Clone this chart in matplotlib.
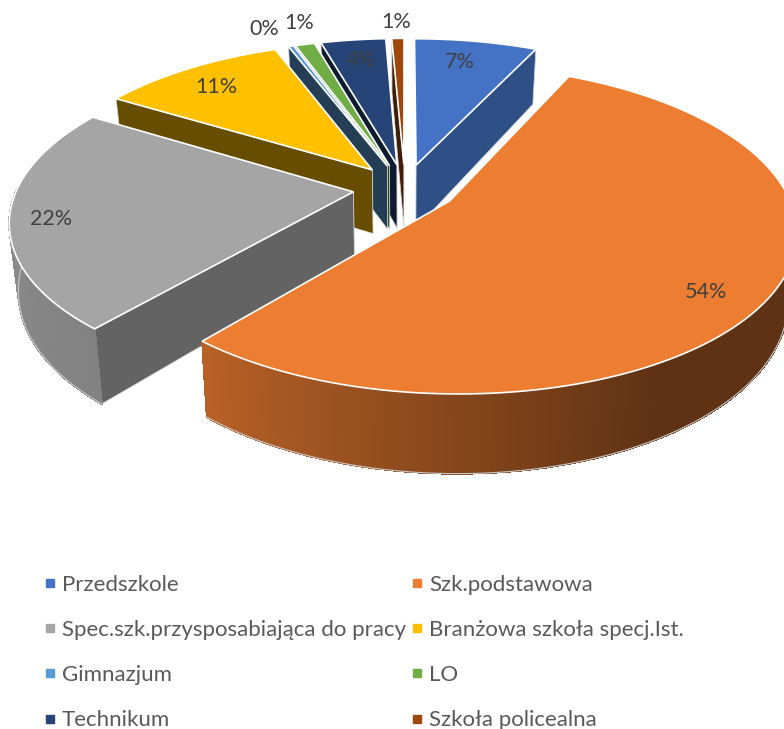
"""Exploded 3D pie chart of pupils by school type."""

import numpy as np
import matplotlib
matplotlib.use('Agg')
import matplotlib.pyplot as plt
from matplotlib.collections import PolyCollection
from matplotlib.lines import Line2D

categories = ['Przedszkole', 'Szk.podstawowa', 'Spec.szk.przysposabiająca do pracy',
              'Branżowa szkoła specj.Ist.', 'Gimnazjum', 'LO', 'Technikum', 'Szkoła policealna']
shares = [7.0, 54.2, 22.5, 10.5, 0.3, 1.1, 3.7, 0.7]
percent_labels = ['7%', '54%', '22%', '11%', '0%', '1%', '4%', '1%']
colors = ['#4472C4', '#ED7D31', '#A5A5A5', '#FFC000', '#5B9BD5', '#70AD47', '#264478', '#9E480E']

# pixel position of each percent label
label_xy = [(460, 62), (706, 292), (51, 219), (216, 87), (264, 29), (299, 23), (361, 60), (396, 22)]
# how dark the visible flat wall of each slice is
flat_shade = [0.69, 0.6, 0.6, 0.4, 0.4, 0.4, 0.4, 0.4]

plt.rcParams['font.family'] = ['Lato', 'DejaVu Sans']

# view of the pie, in pixels
CX, CY = 405, 188
RX, RY = 336, 155
PERSP = 0.17
DEPTH = 65
EXPLODE = 0.155


def project(u, v, z=0.0):
    s = 1 / (1 + PERSP * v)
    x = CX + RX * u * s * (1 - 0.023 * z)
    y = CY - RY * v * s + DEPTH * s * z
    return np.column_stack([x, y])


def shade(rgb, f):
    return tuple(c * f for c in rgb)


def curved_shade(theta):
    # lighting along the outer wall, by angle clockwise from the top
    return np.interp(theta, [90, 150, 222, 270], [0.40, 0.40, 0.79, 0.85])


fig, ax = plt.subplots(figsize=(7.84, 7.29), dpi=100)
fig.subplots_adjust(0, 0, 1, 1)
ax.set_xlim(0, 784)
ax.set_ylim(729, 0)
ax.axis('off')

edges = np.concatenate([[0], np.cumsum(shares)]) / np.sum(shares) * 360
mids = (edges[:-1] + edges[1:]) / 2
order = np.argsort(-np.cos(np.radians(mids)))

for i in order:
    start, end = edges[i], edges[i + 1]
    rgb = matplotlib.colors.to_rgb(colors[i])
    mid = np.radians(mids[i])
    ou, ov = EXPLODE * np.sin(mid), EXPLODE * np.cos(mid)
    theta = np.linspace(start, end, max(int(end - start) * 2, 4))
    rad = np.radians(theta)
    rim_u, rim_v = ou + np.sin(rad), ov + np.cos(rad)

    # flat walls that face the viewer
    for ang in (start, end):
        s = np.sin(np.radians(ang))
        visible = s < 0 if ang == start else s > 0
        if not visible:
            continue
        a = np.radians(ang)
        wall_u = np.array([ou, ou + np.sin(a), ou + np.sin(a), ou])
        wall_v = np.array([ov, ov + np.cos(a), ov + np.cos(a), ov])
        top = project(wall_u[:2], wall_v[:2], 0)
        bottom = project(wall_u[2:], wall_v[2:], 1)
        ax.fill(*np.vstack([top, bottom]).T, facecolor=shade(rgb, flat_shade[i]),
                edgecolor='#d8d8d8', linewidth=0.6, zorder=2)

    # outer curved wall, only the part that faces front
    keep = np.cos(rad) < 0.02
    if keep.sum() > 1:
        ku, kv, kt = rim_u[keep], rim_v[keep], theta[keep]
        top = project(ku, kv, 0)
        bottom = project(ku, kv, 1)
        quads = [[top[j], top[j + 1], bottom[j + 1], bottom[j]] for j in range(len(kt) - 1)]
        quad_colors = [shade(rgb, curved_shade(t)) for t in kt[:-1]]
        ax.add_collection(PolyCollection(quads, facecolors=quad_colors, edgecolors=quad_colors,
                                         linewidths=0.8, antialiaseds=False, zorder=2))
        ax.plot(*bottom.T, color='#c8c8c8', linewidth=0.8, zorder=2)

    # top face
    face = project(np.concatenate([[ou], rim_u]), np.concatenate([[ov], rim_v]), 0)
    ax.fill(*face.T, facecolor=rgb, edgecolor='white', linewidth=1.2,
            joinstyle='miter', zorder=2)

for (x, y), text in zip(label_xy, percent_labels):
    ax.text(x, y, text, ha='center', va='center', fontsize=15.5, color='#404040', zorder=3)

handles = [Line2D([], [], linestyle='none', marker='s', markersize=5.8, color=c, label=n)
           for c, n in zip(colors, categories)]
legend_order = [0, 2, 4, 6, 1, 3, 5, 7]
ax.legend([handles[j] for j in legend_order], [categories[j] for j in legend_order],
          ncols=2, frameon=False, loc='upper left', bbox_to_anchor=(43.5, 575),
          bbox_transform=ax.transData, fontsize=16, labelcolor='#595959', labelspacing=1.13,
          handlelength=0.58, handletextpad=0.25, columnspacing=0.22,
          borderpad=0, borderaxespad=0)

fig.savefig('out.png', dpi=100)
